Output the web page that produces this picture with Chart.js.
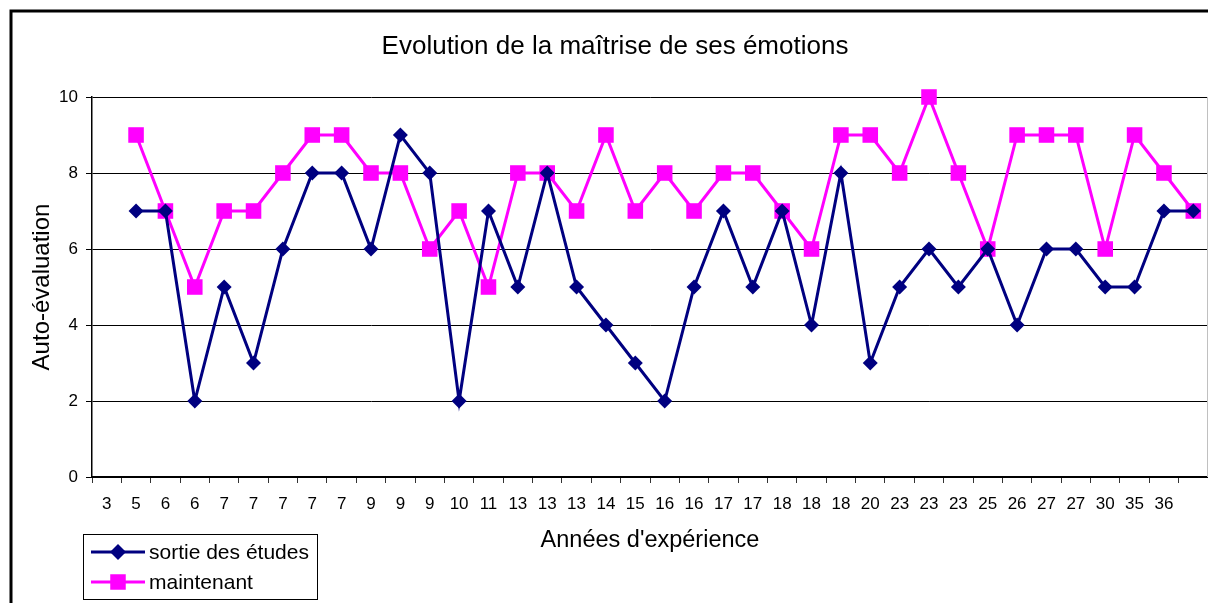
<!DOCTYPE html>
<html>
<head>
<meta charset="utf-8">
<script src="https://cdn.jsdelivr.net/npm/chart.js@4/dist/chart.umd.min.js"></script>
<style>
  html, body { margin: 0; padding: 0; background: #fff; }
  #wrap { width: 1208px; height: 603px; }
</style>
</head>
<body>
<div id="wrap"><canvas id="c" width="1208" height="603"></canvas></div>
<script>
const chartTitle = "Evolution de la maîtrise de ses émotions";
const xTitle = "Années d'expérience";
const yTitle = "Auto-évaluation";
const categories = ["3","5","6","6","7","7","7","7","7","9","9","9","10","11","13","13","13","14","15","16","16","17","17","18","18","18","20","23","23","23","25","26","27","27","30","35","36",""];
const sortieLabel = "sortie des études";
const sortieValues = [null,7,7,2,5,3,6,8,8,6,9,8,2,7,5,8,5,4,3,2,5,7,5,7,4,8,3,5,6,5,6,4,6,6,5,5,7,7];
const maintenantLabel = "maintenant";
const maintenantValues = [null,9,7,5,7,7,8,9,9,8,8,6,7,5,8,8,7,9,7,8,7,8,8,7,6,9,9,8,10,8,6,9,9,9,6,9,8,7];
const yTicks = [0, 2, 4, 6, 8, 10];

const NAVY = '#000080';
const MAGENTA = '#FF00FF';
const FONT = "'Liberation Sans', Arial, sans-serif";

const decor = {
  id: 'decor',
  beforeDraw(chart) {
    const ctx = chart.ctx;
    ctx.save();
    ctx.fillStyle = '#fff';
    ctx.fillRect(0, 0, chart.width, chart.height);
    ctx.restore();
  },
  afterDraw(chart) {
    const ctx = chart.ctx;
    const a = chart.chartArea;
    ctx.save();
    // plot right border (gray)
    ctx.strokeStyle = '#c0c0c0';
    ctx.lineWidth = 1;
    ctx.beginPath();
    ctx.moveTo(a.right - 0.5, a.top);
    ctx.lineTo(a.right - 0.5, a.bottom);
    ctx.stroke();
    // outer border
    ctx.strokeStyle = '#000';
    ctx.lineWidth = 3;
    ctx.strokeRect(11, 11, 1220, 620);
    // title
    ctx.fillStyle = '#000';
    ctx.font = "26px " + FONT;
    ctx.textAlign = 'center';
    ctx.textBaseline = 'alphabetic';
    ctx.fillText(chartTitle, 615, 54);
    // legend
    ctx.lineWidth = 1;
    ctx.strokeStyle = '#000';
    ctx.strokeRect(83.5, 534.5, 234, 65);
    const rows = [
      {y: 552, color: NAVY, label: sortieLabel, style: 'diamond'},
      {y: 582, color: MAGENTA, label: maintenantLabel, style: 'square'}
    ];
    rows.forEach(r => {
      ctx.strokeStyle = r.color;
      ctx.lineWidth = 3;
      ctx.beginPath();
      ctx.moveTo(91, r.y);
      ctx.lineTo(145, r.y);
      ctx.stroke();
      ctx.fillStyle = r.color;
      ctx.beginPath();
      if (r.style === 'diamond') {
        ctx.moveTo(118 - 8, r.y);
        ctx.lineTo(118, r.y - 8);
        ctx.lineTo(118 + 8, r.y);
        ctx.lineTo(118, r.y + 8);
        ctx.closePath();
      } else {
        ctx.rect(118 - 7.75, r.y - 7.75, 15.5, 15.5);
      }
      ctx.fill();
      ctx.fillStyle = '#000';
      ctx.font = "21px " + FONT;
      ctx.textAlign = 'left';
      ctx.textBaseline = 'middle';
      ctx.fillText(r.label, 149, r.y + 1);
    });
    ctx.restore();
  }
};

new Chart(document.getElementById('c'), {
  type: 'line',
  data: {
    labels: categories,
    datasets: [
      {
        label: sortieLabel,
        data: sortieValues,
        borderColor: NAVY,
        backgroundColor: NAVY,
        borderWidth: 3,
        pointStyle: 'rectRot',
        pointRadius: 7.5,
        pointBorderWidth: 0,
        tension: 0,
        fill: false,
        clip: false
      },
      {
        label: maintenantLabel,
        data: maintenantValues,
        borderColor: MAGENTA,
        backgroundColor: MAGENTA,
        borderWidth: 3,
        pointStyle: 'rect',
        pointRadius: 11,
        pointBorderWidth: 0,
        tension: 0,
        fill: false,
        clip: false
      }
    ]
  },
  options: {
    responsive: false,
    animation: false,
    events: [],
    layout: { autoPadding: false, padding: { top: 97, left: 0, right: 0, bottom: 0 } },
    plugins: {
      legend: { display: false },
      title: { display: false },
      tooltip: { enabled: false }
    },
    scales: {
      x: {
        type: 'category',
        offset: true,
        afterFit(scale) { scale.height = 126; scale.paddingRight = 0; scale.paddingLeft = 0; },
        grid: {
          offset: true,
          drawOnChartArea: false,
          drawTicks: true,
          tickLength: 6,
          color: '#333',
          lineWidth: 1
        },
        border: { display: true, color: '#000', width: 2 },
        ticks: {
          autoSkip: false,
          maxRotation: 0,
          minRotation: 0,
          padding: 11,
          color: '#000',
          font: { family: FONT, size: 17 }
        },
        title: {
          display: true,
          text: xTitle,
          color: '#000',
          font: { family: FONT, size: 23.5 },
          padding: { top: 0, bottom: 48 }
        }
      },
      y: {
        min: 0,
        max: 10,
        afterFit(scale) { scale.width = 92; },
        afterBuildTicks(scale) { scale.ticks = yTicks.map(v => ({ value: v })); },
        grid: {
          color: '#000',
          lineWidth: 1,
          drawTicks: true,
          tickLength: 6
        },
        border: { display: true, color: '#000', width: 1.5 },
        ticks: {
          padding: 8,
          color: '#000',
          font: { family: FONT, size: 17 }
        },
        title: {
          display: true,
          text: yTitle,
          color: '#000',
          font: { family: FONT, size: 24 },
          padding: { top: 28, bottom: 0 }
        }
      }
    }
  },
  plugins: [decor]
});
</script>
</body>
</html>
